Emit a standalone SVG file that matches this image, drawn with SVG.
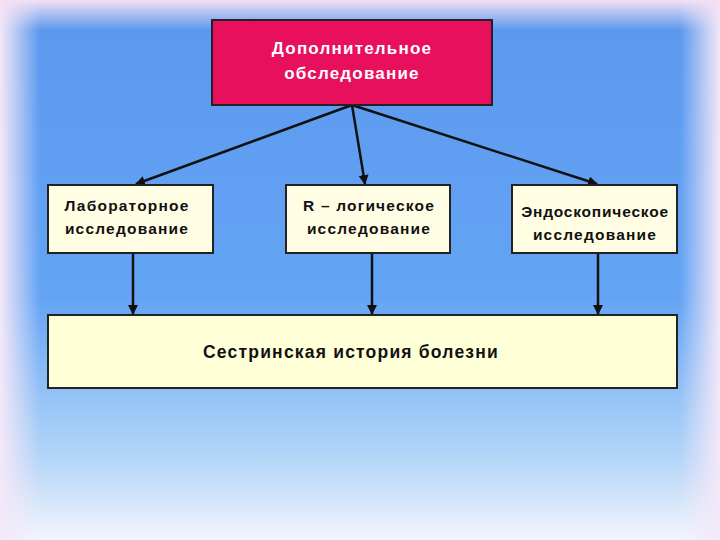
<svg xmlns="http://www.w3.org/2000/svg" width="720" height="540" viewBox="0 0 720 540">
<defs>
<linearGradient id="bg" x1="0" y1="0" x2="0" y2="1">
<stop offset="0" stop-color="#5a98ee"/><stop offset="0.55" stop-color="#64a4f4"/><stop offset="0.85" stop-color="#b4d6f8"/><stop offset="1" stop-color="#f4f4fc"/>
</linearGradient>
<linearGradient id="fl" x1="0" y1="0" x2="1" y2="0">
<stop offset="0" stop-color="#f4e8f8" stop-opacity="1"/><stop offset="1" stop-color="#f4e8f8" stop-opacity="0"/>
</linearGradient>
<linearGradient id="fr" x1="1" y1="0" x2="0" y2="0">
<stop offset="0" stop-color="#f4e8f8" stop-opacity="1"/><stop offset="1" stop-color="#f4e8f8" stop-opacity="0"/>
</linearGradient>
<linearGradient id="ft" x1="0" y1="0" x2="0" y2="1">
<stop offset="0" stop-color="#f4e0f4" stop-opacity="1"/><stop offset="1" stop-color="#f4e0f4" stop-opacity="0"/>
</linearGradient>
<marker id="ah" viewBox="0 0 10 10" refX="9" refY="5" markerWidth="4" markerHeight="4" orient="auto"><path d="M0,0L10,5L0,10z" fill="#111"/></marker>
<style>
.box{stroke:#222;stroke-width:2}
.t{font-family:"Liberation Sans",Arial,sans-serif;font-size:15.5px;font-weight:bold;letter-spacing:1.2px;fill:#111}
.w{fill:#fff;font-size:17px}
.c{stroke:#111;stroke-width:2.5;fill:none;marker-end:url(#ah)}
</style>
</defs>
<rect width="720" height="540" fill="url(#bg)"/>
<rect width="40" height="540" fill="url(#fl)"/>
<rect x="680" width="40" height="540" fill="url(#fr)"/>
<rect width="720" height="30" fill="url(#ft)"/>
<g id="connectors">
<line class="c" x1="352" y1="105" x2="136" y2="184"/>
<line class="c" x1="352" y1="105" x2="365" y2="184"/>
<line class="c" x1="352" y1="105" x2="597" y2="184"/>
<line class="c" x1="133" y1="253" x2="133" y2="314"/>
<line class="c" x1="372" y1="253" x2="372" y2="314"/>
<line class="c" x1="598" y1="253" x2="598" y2="314"/>
</g>
<g id="top"><rect class="box" x="212" y="20" width="280" height="85" fill="#e8105c"/>
<text class="t w" x="352" y="54" text-anchor="middle">Дополнительное</text><text class="t w" x="352" y="79" text-anchor="middle">обследование</text></g>
<g id="lab"><rect class="box" x="48" y="185" width="165" height="68" fill="#fffee4"/>
<text class="t" x="127" y="211" text-anchor="middle">Лабораторное</text><text class="t" x="127" y="234" text-anchor="middle">исследование</text></g>
<g id="rlog"><rect class="box" x="286" y="185" width="164" height="68" fill="#fffee4"/>
<text class="t" x="369" y="211" text-anchor="middle">R – логическое</text><text class="t" x="369" y="234" text-anchor="middle">исследование</text></g>
<g id="endo"><rect class="box" x="512" y="185" width="165" height="68" fill="#fffee4"/>
<text class="t" x="595" y="217" text-anchor="middle" style="letter-spacing:0.8px">Эндоскопическое</text><text class="t" x="595" y="240" text-anchor="middle">исследование</text></g>
<g id="hist"><rect class="box" x="48" y="315" width="629" height="73" fill="#ffffd8"/>
<text class="t" x="351" y="358" text-anchor="middle" style="font-size:17.5px">Сестринская история болезни</text></g>
</svg>
